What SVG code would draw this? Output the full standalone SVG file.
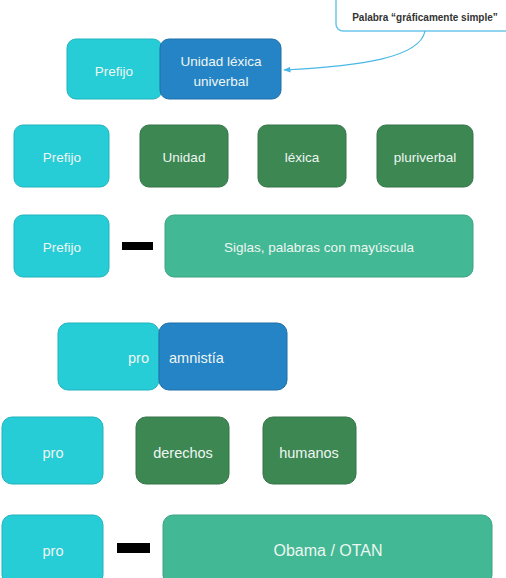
<svg xmlns="http://www.w3.org/2000/svg" width="506" height="578" viewBox="0 0 506 578">
<style>
.t{font-family:"Liberation Sans",Arial,sans-serif;font-size:13.5px;fill:#eef6f2;text-anchor:middle;dominant-baseline:central}
.l{font-size:14.5px}
.cy{fill:#26ccd6;stroke:#20b4bd;stroke-width:1}
.bl{fill:#2584c6;stroke:#1f6fa8;stroke-width:1}
.gr{fill:#3d8753;stroke:#347548;stroke-width:1}
.te{fill:#43b894;stroke:#3aa382;stroke-width:1}
.dash{fill:#000}
</style>
<defs>
<marker id="ah" viewBox="0 0 10 10" refX="9" refY="5" markerWidth="6" markerHeight="6" orient="auto">
<path d="M0,1 L10,5 L0,9 z" fill="#4ab8e6"/>
</marker>
</defs>
<g id="callout">
<rect x="336" y="-20" width="190" height="51" rx="7" fill="#fff" stroke="#6cc6ec" stroke-width="1.5"/>
<text x="425" y="17" style="font-family:'Liberation Sans',Arial,sans-serif;font-size:10px;font-weight:bold;fill:#333;text-anchor:middle;dominant-baseline:central">Palabra “gráficamente simple”</text>
</g>
<g id="connectors">
<path d="M425,31 C420,58 360,66 284,70" fill="none" stroke="#4ab8e6" stroke-width="1.2" marker-end="url(#ah)"/>
</g>
<g id="n1"><rect class="cy" x="67" y="39" width="95" height="60" rx="9"/><text class="t" x="114" y="71">Prefijo</text></g>
<g id="n2"><rect class="bl" x="160" y="39" width="121" height="60" rx="9"/><text class="t" x="221" y="61">Unidad léxica</text><text class="t" x="221" y="81">univerbal</text></g>
<g id="n3"><rect class="cy" x="14" y="125" width="95" height="62" rx="9"/><text class="t" x="62" y="157">Prefijo</text></g>
<g id="n4"><rect class="gr" x="140" y="125" width="88" height="62" rx="9"/><text class="t" x="184" y="157">Unidad</text></g>
<g id="n5"><rect class="gr" x="258" y="125" width="88" height="62" rx="9"/><text class="t" x="302" y="157">léxica</text></g>
<g id="n6"><rect class="gr" x="377" y="125" width="96" height="62" rx="9"/><text class="t" x="425" y="157">pluriverbal</text></g>
<g id="n7"><rect class="cy" x="14" y="215" width="95" height="62" rx="9"/><text class="t" x="62" y="247">Prefijo</text></g>
<rect class="dash" x="122" y="242" width="31" height="8"/>
<g id="n8"><rect class="te" x="165" y="215" width="308" height="62" rx="9"/><text class="t" x="319" y="247">Siglas, palabras con mayúscula</text></g>
<g id="n9"><rect class="cy" x="58" y="323" width="101" height="67" rx="10"/><text class="t l" x="149" y="358" style="text-anchor:end">pro</text></g>
<g id="n10"><rect class="bl" x="159" y="323" width="128" height="67" rx="10"/><text class="t l" x="169" y="358" style="text-anchor:start">amnistía</text></g>
<g id="n11"><rect class="cy" x="2" y="417" width="101" height="67" rx="10"/><text class="t l" x="53" y="453">pro</text></g>
<g id="n12"><rect class="gr" x="136" y="417" width="93" height="67" rx="10"/><text class="t l" x="183" y="453">derechos</text></g>
<g id="n13"><rect class="gr" x="263" y="417" width="93" height="67" rx="10"/><text class="t l" x="309" y="453">humanos</text></g>
<g id="n14"><rect class="cy" x="2" y="515" width="101" height="70" rx="10"/><text class="t l" x="53" y="551">pro</text></g>
<rect class="dash" x="117" y="543" width="33" height="10"/>
<g id="n15"><rect class="te" x="163" y="515" width="329" height="70" rx="10"/><text class="t" x="328" y="550" style="font-size:16px">Obama / OTAN</text></g>
</svg>
